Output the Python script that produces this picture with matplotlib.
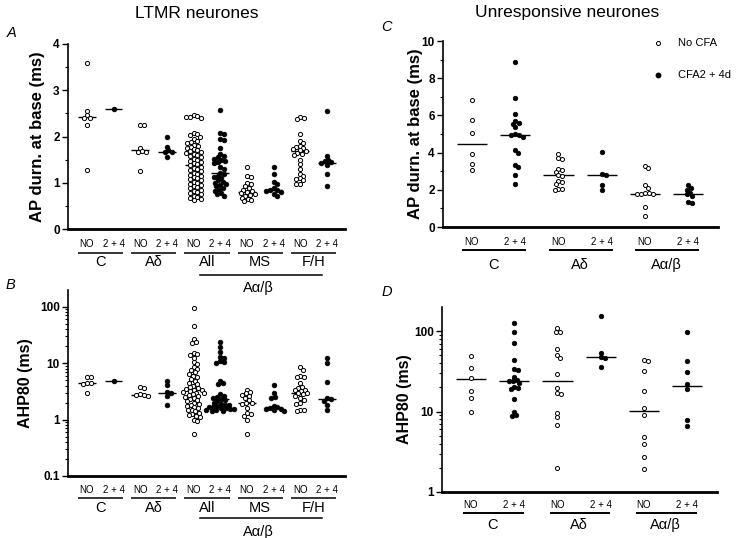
import numpy as np
import matplotlib
matplotlib.use('Agg')
import matplotlib.pyplot as plt
from matplotlib.transforms import offset_copy
from matplotlib.ticker import LogLocator, NullFormatter

plt.rcParams['font.family'] = ['Liberation Sans', 'DejaVu Sans']

# ---------------- DATA ----------------
# Panel A: LTMR, AP duration at base (ms)
A_groups = ['C', 'Aδ', 'All', 'MS', 'F/H']
A_C_NO = [3.6, 2.55, 2.46, 2.41, 2.40, 2.25, 1.28]
A_C_24 = [2.6]
A_Ad_NO = [2.24, 2.24, 1.76, 1.68, 1.66, 1.66, 1.26]
A_Ad_24 = [2.0, 1.78, 1.70, 1.67, 1.66, 1.55]
A_All_NO = [2.47, 2.45, 2.43, 2.42, 2.40, 2.08, 2.06, 2.03, 2.0,
            1.95, 1.9, 1.88, 1.85, 1.82, 1.8, 1.78, 1.75, 1.72, 1.7, 1.68,
            1.66, 1.64, 1.62, 1.6, 1.58, 1.55, 1.52, 1.5, 1.48,
            1.45, 1.42, 1.4, 1.38,
            1.35, 1.32, 1.3, 1.28, 1.25, 1.22, 1.2, 1.17, 1.15, 1.12, 1.1,
            1.08, 1.05, 1.02, 1.0, 0.98, 0.95, 0.92, 0.9, 0.88, 0.85, 0.82,
            0.8, 0.78, 0.75, 0.72, 0.7, 0.68, 0.65, 0.62]
A_All_24 = [2.58, 2.07, 2.05, 1.95, 1.93, 1.75, 1.62, 1.58, 1.55, 1.52, 1.5,
            1.48, 1.45, 1.42, 1.35, 1.3, 1.22, 1.18, 1.15, 1.12, 1.1, 1.05,
            1.02, 1.0, 0.98, 0.95, 0.92, 0.88, 0.85, 0.82, 0.78, 0.75, 0.72]
A_MS_NO = [1.33, 1.15, 1.13, 1.0, 0.97, 0.92, 0.88, 0.85, 0.82, 0.8, 0.78,
           0.76, 0.74, 0.72, 0.68, 0.65, 0.62, 0.6]
A_MS_24 = [1.35, 1.18, 1.02, 0.97, 0.88, 0.85, 0.84, 0.82, 0.8, 0.76, 0.72]
A_FH_NO = [2.42, 2.40, 2.37, 2.05, 1.90, 1.85, 1.80, 1.78, 1.75, 1.72, 1.70,
           1.68, 1.65, 1.62, 1.60, 1.50, 1.40, 1.30, 1.20, 1.15, 1.10, 1.08,
           1.05, 0.97, 0.97]
A_FH_24 = [2.56, 1.58, 1.5, 1.47, 1.44, 1.42, 1.38, 1.2, 0.94]
A_medians = [2.42, 2.6, 1.70, 1.67, 1.38, 1.22, 0.79, 0.84, 1.68, 1.43]

# Panel B: LTMR, AHP80 (ms)
B_C_NO = [5.8, 5.6, 4.5, 4.4, 4.2, 3.0]
B_C_24 = [4.9]
B_Ad_NO = [3.8, 3.6, 2.8, 2.7, 2.7, 2.65]
B_Ad_24 = [4.9, 4.1, 3.1, 3.0, 2.6, 1.85]
B_All_NO = [95, 45, 27, 24, 23, 15, 14.5, 14, 12.5, 10.5, 9.5, 8.5, 8, 7.5,
            7, 6.5, 6, 5.6, 5.2, 4.8, 4.5, 4.2, 4.0, 3.8, 3.6, 3.5, 3.4, 3.3,
            3.2, 3.1, 3.0, 2.9, 2.8, 2.7, 2.6, 2.5, 2.4, 2.3, 2.2, 2.1, 2.0,
            1.9, 1.8, 1.75, 1.7, 1.6, 1.5, 1.45, 1.4, 1.3, 1.25, 1.2, 1.15,
            1.1, 1.0, 0.95, 0.55]
B_All_24 = [24, 19.5, 16, 13, 12.5, 10.8, 10.5, 10.2, 4.9, 4.4, 4.3, 2.8, 2.6,
            2.5, 2.4, 2.3, 2.2, 2.1, 2.0, 1.9, 1.85, 1.8, 1.75, 1.7, 1.65,
            1.6, 1.58, 1.55, 1.52, 1.5, 1.47, 1.44, 1.4]
B_MS_NO = [3.4, 3.1, 2.9, 2.7, 2.6, 2.4, 2.2, 2.0, 1.95, 1.9, 1.6, 1.3, 1.25,
           1.15, 1.0, 0.55]
B_MS_24 = [4.1, 2.9, 2.5, 2.4, 1.75, 1.68, 1.62, 1.56, 1.52, 1.48, 1.44]
B_FH_NO = [8.5, 7.5, 6.0, 5.8, 5.6, 4.4, 3.8, 3.6, 3.4, 3.3, 3.2, 3.0, 2.9,
           2.8, 2.6, 2.4, 2.2, 2.0, 1.9, 1.5, 1.45, 1.4]
B_FH_24 = [12.5, 10.2, 4.7, 2.4, 2.3, 2.15, 1.8, 1.45]
B_medians = [4.4, 4.9, 2.75, 3.0, 3.3, 2.3, 1.95, 1.65, 3.0, 2.3]

# Panel C: Unresponsive, AP duration at base (ms)
C_groups = ['C', 'Aδ', 'Aα/β']
C_C_NO = [6.85, 5.75, 5.05, 3.9, 3.4, 3.05]
C_C_24 = [8.85, 6.95, 6.05, 5.72, 5.6, 5.55, 5.35, 5.0, 4.97, 4.95, 4.85,
          4.15, 4.0, 3.35, 3.22, 2.82, 2.3]
C_Ad_NO = [3.95, 3.7, 3.65, 3.1, 3.05, 2.95, 2.8, 2.75, 2.45, 2.4, 2.3, 2.05,
           2.02, 2.0]
C_Ad_24 = [4.05, 2.85, 2.8, 2.25, 2.0]
C_Aab_NO = [3.3, 3.15, 2.25, 2.1, 1.85, 1.82, 1.8, 1.78, 1.8, 1.1, 0.6]
C_Aab_24 = [2.25, 2.1, 2.0, 1.85, 1.75, 1.65, 1.35, 1.3]
C_medians = [4.45, 4.97, 2.78, 2.8, 1.8, 1.75]

# Panel D: Unresponsive, AHP80 (ms)
D_C_NO = [49, 35, 26, 18, 14.7, 10]
D_C_24 = [125, 98, 72, 44, 33.5, 33, 27, 25, 24, 24, 22.5, 20, 19.5, 19,
          14.5, 10, 9.0, 8.7]
D_Ad_NO = [108, 98, 97, 59, 50, 46, 29, 19.5, 17, 16.3, 9.7, 8.6, 6.8, 2.0]
D_Ad_24 = [153, 54, 47, 46, 36]
D_Aab_NO = [44, 42, 32, 18, 11.2, 9.0, 4.8, 4.0, 2.75, 1.95]
D_Aab_24 = [98, 42, 31, 22, 19, 7.8, 6.6]
D_medians = [25.5, 24, 24, 47, 10.2, 20.5]

sub_labels = ['NO', '2 + 4']
legend_labels = ['No CFA', 'CFA2 + 4d']

# ---------------- FIGURE ----------------
W, H = 750, 538
fig = plt.figure(figsize=(W / 100, H / 100), dpi=100)


def add_axes_px(l, t, r, b):
    ax = fig.add_axes([l / W, 1 - b / H, (r - l) / W, (b - t) / H])
    ax.patch.set_visible(False)
    return ax


def style_axes(ax):
    for s in ['top', 'right']:
        ax.spines[s].set_visible(False)
    ax.spines['left'].set_linewidth(1.2)
    ax.spines['bottom'].set_linewidth(2.0)
    ax.set_xticks([])
    ax.tick_params(axis='y', which='major', direction='out', length=4,
                   width=1.0, labelsize=8.5, pad=2)
    ax.tick_params(axis='y', which='minor', direction='out', length=2.2,
                   width=0.8)


def swarm(ax, xpos, vals, filled, d=4.0, ms=3.0):
    vals = np.asarray(vals, dtype=float)
    p0 = ax.transData.transform((0, 1))
    p1 = ax.transData.transform((1, 1))
    sx = p1[0] - p0[0]
    ypx = np.array([ax.transData.transform((xpos, v))[1] for v in vals])
    order = np.argsort(-vals)
    placed = []
    offs = np.zeros(len(vals))
    for i in order:
        y = ypx[i]
        cands = [0.0]
        near = [(px, py) for px, py in placed if abs(py - y) < d]
        for px, py in near:
            dx = np.sqrt(max(d * d - (py - y) ** 2, 0)) + 0.01
            cands += [px + dx, px - dx]
        best = None
        for c in sorted(cands, key=lambda c: (abs(c), -c)):
            ok = all((c - px) ** 2 + (y - py) ** 2 >= d * d - 0.05
                     for px, py in near)
            if ok:
                best = c
                break
        placed.append((best, y))
        offs[i] = best
    xs = xpos + offs / sx
    if filled:
        ax.plot(xs, vals, 'o', ms=ms + 0.4, mfc='black', mec='black',
                mew=0.5, ls='none', clip_on=False, zorder=3)
    else:
        ax.plot(xs, vals, 'o', ms=ms, mfc='white', mec='black',
                mew=0.7, ls='none', clip_on=False, zorder=3)


def medians(ax, meds, half):
    for i, m in enumerate(meds):
        ax.plot([i - half, i + half], [m, m], color='black', lw=1.0,
                zorder=2, solid_capstyle='butt')


def trans_below(ax, off):
    return offset_copy(ax.get_xaxis_transform(), fig=fig, x=0, y=-off,
                       units='dots')


def x_labels(ax, groups, offs, l0, l1, lw_line, sub_fs=7, grp_fs=10.5):
    n = len(groups) * 2
    t_sub = trans_below(ax, offs[0])
    t_line = trans_below(ax, offs[1])
    t_grp = trans_below(ax, offs[2])
    for i in range(n):
        ax.text(i, 0, sub_labels[i % 2], transform=t_sub, ha='center',
                va='center', fontsize=sub_fs)
    for g, name in enumerate(groups):
        a = 2 * g
        ax.plot([a - l0, a + 1 + l1], [0, 0], transform=t_line, color='black',
                lw=lw_line, clip_on=False, solid_capstyle='butt')
        ax.text(a + 0.5, 0, name, transform=t_grp, ha='center', va='center',
                fontsize=grp_fs)


# ---- Panel A ----
axA = add_axes_px(68, 44, 345, 229)
style_axes(axA)
axA.set_xlim(-0.71, 9.68)
axA.set_ylim(0, 4)
axA.set_yticks([0, 1, 2, 3, 4], labels=['0', '1', '2', '3', '4'],
               fontweight='bold')
axA.set_yticks([0.5, 1.5, 2.5, 3.5], minor=True)
axA.set_ylabel('AP durn. at base (ms)', fontsize=12, fontweight='bold')
axA.yaxis.set_label_coords(-0.083, 0.5)
A_sets = [A_C_NO, A_C_24, A_Ad_NO, A_Ad_24, A_All_NO, A_All_24, A_MS_NO,
          A_MS_24, A_FH_NO, A_FH_24]
for i, s in enumerate(A_sets):
    swarm(axA, i, s, filled=(i % 2 == 1))
medians(axA, A_medians, 0.33)
x_labels(axA, A_groups, (15, 23.5, 33), 0.35, 0.35, 1.1)
axA.plot([4.25, 8.8], [0, 0], transform=trans_below(axA, 46), color='black',
         lw=1.1, clip_on=False)
axA.text(6.45, 0, 'Aα/β', transform=trans_below(axA, 59), ha='center',
         va='center', fontsize=10.5)

# ---- Panel B ----
axB = add_axes_px(68, 290, 345, 476)
style_axes(axB)
axB.set_yscale('log')
axB.set_xlim(-0.71, 9.68)
axB.set_ylim(0.1, 198)
axB.set_yticks([0.1, 1, 10, 100], labels=['0.1', '1', '10', '100'],
               fontweight='bold')
axB.yaxis.set_minor_locator(LogLocator(base=10, subs=np.arange(2, 10)))
axB.yaxis.set_minor_formatter(NullFormatter())
axB.set_ylabel('AHP80 (ms)', fontsize=11.5, fontweight='bold')
axB.yaxis.set_label_coords(-0.126, 0.5)
B_sets = [B_C_NO, B_C_24, B_Ad_NO, B_Ad_24, B_All_NO, B_All_24, B_MS_NO,
          B_MS_24, B_FH_NO, B_FH_24]
for i, s in enumerate(B_sets):
    swarm(axB, i, s, filled=(i % 2 == 1))
medians(axB, B_medians, 0.33)
x_labels(axB, A_groups, (14, 21.5, 32), 0.35, 0.35, 1.1)
axB.plot([4.25, 8.8], [0, 0], transform=trans_below(axB, 42), color='black',
         lw=1.1, clip_on=False)
axB.text(6.45, 0, 'Aα/β', transform=trans_below(axB, 56), ha='center',
         va='center', fontsize=10.5)

# ---- Panel C ----
axC = add_axes_px(443, 41, 718, 227)
style_axes(axC)
axC.set_xlim(-0.67, 5.69)
axC.set_ylim(0, 10)
axC.set_yticks([0, 2, 4, 6, 8, 10], labels=['0', '2', '4', '6', '8', '10'],
               fontweight='bold')
axC.set_yticks([1, 3, 5, 7, 9], minor=True)
axC.set_ylabel('AP durn. at base (ms)', fontsize=12, fontweight='bold')
axC.yaxis.set_label_coords(-0.073, 0.5)
C_sets = [C_C_NO, C_C_24, C_Ad_NO, C_Ad_24, C_Aab_NO, C_Aab_24]
for i, s in enumerate(C_sets):
    swarm(axC, i, s, filled=(i % 2 == 1), d=4.0, ms=2.9)
medians(axC, C_medians, 0.35)
x_labels(axC, C_groups, (15, 23, 38), 0.22, 0.26, 1.4)
# legend
axC.plot([0.78], [0.99], 'o', transform=axC.transAxes, ms=2.9, mfc='white',
         mec='black', mew=0.7, clip_on=False)
axC.text(0.855, 0.99, legend_labels[0], transform=axC.transAxes, fontsize=8,
         va='center', ha='left')
axC.plot([0.78], [0.815], 'o', transform=axC.transAxes, ms=3.2, mfc='black',
         mec='black', clip_on=False)
axC.text(0.855, 0.815, legend_labels[1], transform=axC.transAxes, fontsize=8,
         va='center', ha='left')

# ---- Panel D ----
axD = add_axes_px(442, 307, 717, 492)
style_axes(axD)
axD.set_yscale('log')
axD.set_xlim(-0.67, 5.69)
axD.set_ylim(1, 199)
axD.set_yticks([1, 10, 100], labels=['1', '10', '100'], fontweight='bold')
axD.yaxis.set_minor_locator(LogLocator(base=10, subs=np.arange(2, 10)))
axD.yaxis.set_minor_formatter(NullFormatter())
axD.set_ylabel('AHP80 (ms)', fontsize=11.5, fontweight='bold')
axD.yaxis.set_label_coords(-0.109, 0.5)
D_sets = [D_C_NO, D_C_24, D_Ad_NO, D_Ad_24, D_Aab_NO, D_Aab_24]
for i, s in enumerate(D_sets):
    swarm(axD, i, s, filled=(i % 2 == 1), d=4.0, ms=2.9)
medians(axD, D_medians, 0.35)
x_labels(axD, C_groups, (13, 21, 33), 0.18, 0.22, 1.4)

# ---- Titles and panel letters ----
fig.text(197 / W, 1 - 13 / H, 'LTMR neurones', ha='center', va='center',
         fontsize=12.5)
fig.text(567 / W, 1 - 13 / H, 'Unresponsive neurones', ha='center',
         va='center', fontsize=12.5)
for letter, x, y in [('A', 12, 33), ('B', 10, 285), ('C', 386, 27),
                     ('D', 387, 292)]:
    fig.text(x / W, 1 - y / H, letter, ha='center', va='center',
             fontsize=10.5, fontstyle='italic')

fig.savefig('out.png', dpi=100)
